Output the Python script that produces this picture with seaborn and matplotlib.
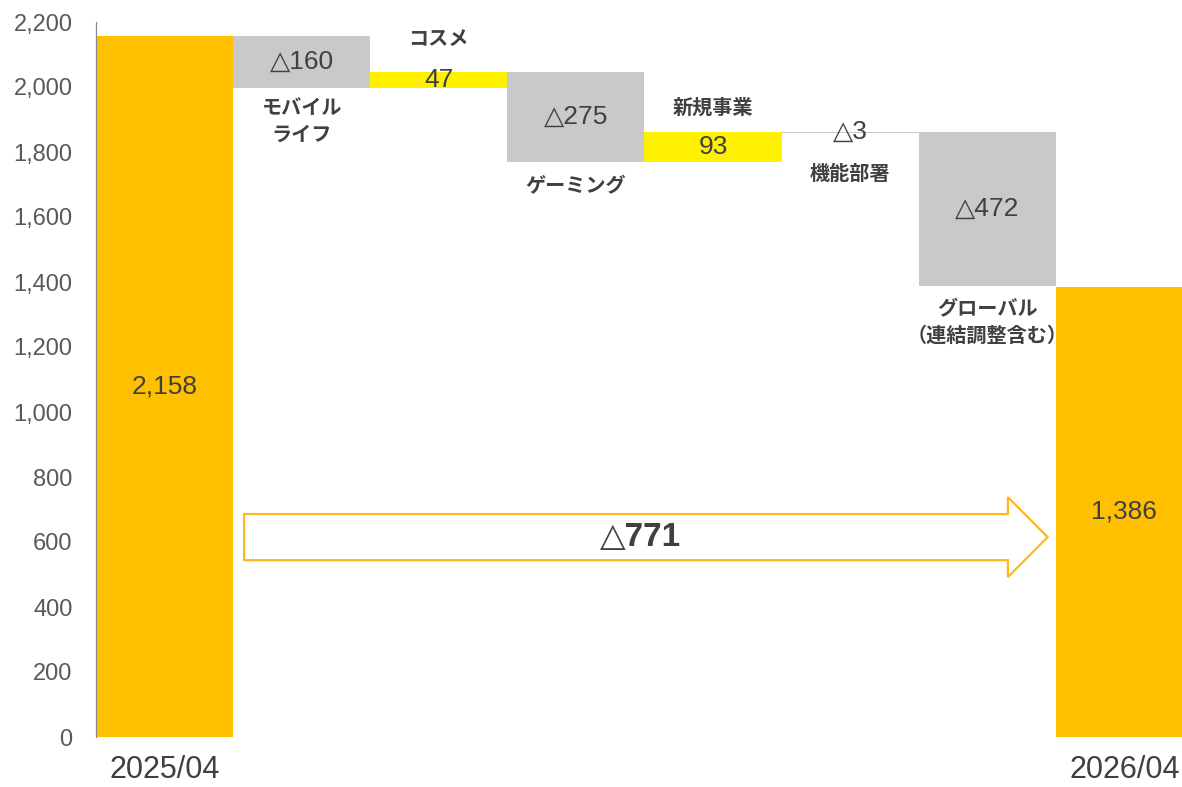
import matplotlib
matplotlib.use("Agg")
import matplotlib.pyplot as plt
from matplotlib.patches import FancyArrow
from matplotlib.ticker import FuncFormatter
import pandas as pd
import seaborn as sns

# Operating-profit bridge, 2025/04 -> 2026/04
categories = ["2025/04", "モバイル\nライフ", "コスメ", "ゲーミング", "新規事業",
              "機能部署", "グローバル\n（連結調整含む）", "2026/04"]
values = [2158, -160, 47, -275, 93, -3, -472, 1386]
is_total = [True, False, False, False, False, False, False, True]
tick_labels = ["2025/04", "", "", "", "", "", "", "2026/04"]
net_change = -771

ORANGE = "#FFC000"
GREY = "#C9C9C9"
YELLOW = "#FFF000"
TEXT = "#404040"

sns.set_theme(style="white")
plt.rcParams["font.family"] = ["Liberation Sans", "DejaVu Sans"]
JP = ["Noto Sans CJK JP", "DejaVu Sans"]

# floating-bar geometry
bottoms, heights, colors = [], [], []
level = 0
for v, tot in zip(values, is_total):
    if tot:
        bottoms.append(0)
        heights.append(v)
        colors.append(ORANGE)
        level = v
    else:
        bottoms.append(min(level, level + v))
        heights.append(abs(v))
        colors.append(GREY if v < 0 else YELLOW)
        level += v

df = pd.DataFrame({"step": categories, "height": heights})
palette = dict(zip(categories, colors))

fig = plt.figure(figsize=(11.82, 7.87), dpi=100)
ax = fig.add_axes([96 / 1182, 50 / 787, 1 - 96 / 1182, 715 / 787])

sns.barplot(data=df, x="step", y="height", hue="step", order=categories,
            hue_order=categories, palette=palette, width=1.0, saturation=1,
            legend=False, ax=ax, linewidth=0)
for patch, b, h in zip(ax.patches, bottoms, heights):
    patch.set_y(b)
    patch.set_height(h)

ax.set_ylim(0, 2200)
ax.set_xlim(-0.5, 7.42)
ax.set_yticks(range(0, 2201, 200))
ax.yaxis.set_major_formatter(FuncFormatter(lambda v, _: f"{int(v):,}"))
ax.set_xticks(range(len(categories)))
ax.set_xticklabels(tick_labels)
ax.tick_params(axis="y", length=0, pad=17, labelsize=17, labelcolor="#595959")
ax.tick_params(axis="x", length=0, pad=13, labelsize=22, labelcolor=TEXT)
ax.set_xlabel("")
ax.set_ylabel("")
for side in ["top", "right", "bottom"]:
    ax.spines[side].set_visible(False)
ax.spines["left"].set_color("#8C8C8C")
ax.spines["left"].set_linewidth(0.9)


def fmt(v, total):
    if total:
        return f"{v:,}"
    return f"△{abs(v):,}" if v < 0 else f"{v:,}"


# value labels
for i, (v, tot, b, h) in enumerate(zip(values, is_total, bottoms, heights)):
    y = b + h / 2
    ax.text(i, y, fmt(v, tot), ha="center", va="center", fontsize=19, color=TEXT)

# segment names
name_offsets = {1: 9, 2: 23, 3: 13, 4: 14, 5: 30, 6: 12}
for i, (name, v, tot, b, h) in enumerate(zip(categories, values, is_total, bottoms, heights)):
    if tot:
        continue
    off = name_offsets[i]
    if v > 0:
        ax.annotate(name, xy=(i, b + h), xytext=(0, off), textcoords="offset pixels",
                    ha="center", va="bottom", fontsize=14.5, fontweight="bold",
                    family=JP, color=TEXT, linespacing=1.35)
    else:
        ax.annotate(name, xy=(i, b), xytext=(0, -off), textcoords="offset pixels",
                    ha="center", va="top", fontsize=14.5, fontweight="bold",
                    family=JP, color=TEXT, linespacing=1.35)

# net change arrow
arrow_y = 615
x0, x1 = 0.58, 6.44
ax.add_patch(FancyArrow(x0, arrow_y, x1 - x0, 0, width=142, head_width=246,
                        head_length=0.29, length_includes_head=True,
                        facecolor="white", edgecolor="#FFB81C", linewidth=1.6,
                        zorder=3))
ax.text(3.47, arrow_y, f"△{abs(net_change)}", ha="center", va="center",
        fontsize=24, fontweight="bold", color=TEXT, zorder=4)

fig.savefig("out.png", dpi=100)
